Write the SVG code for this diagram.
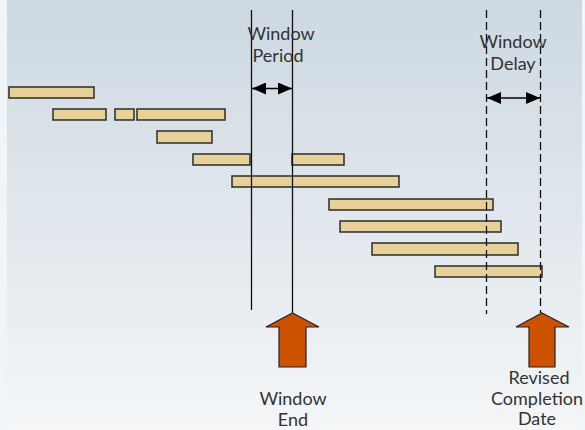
<svg xmlns="http://www.w3.org/2000/svg" width="585" height="430" viewBox="0 0 585 430">
<defs>
<linearGradient id="bg" x1="0" y1="0" x2="0" y2="1">
<stop offset="0" stop-color="#cdd8e1"/>
<stop offset="1" stop-color="#f4f6f8"/>
</linearGradient>
<marker id="ah" viewBox="0 0 14 12" refX="14" refY="6" markerWidth="14" markerHeight="12" markerUnits="userSpaceOnUse" orient="auto-start-reverse">
<path d="M0,0 L14,6 L0,12 Z" fill="#000"/>
</marker>
<style>
.bar{fill:#e8d198;stroke:#2b2b2b;stroke-width:1.5}
.vl{stroke:#111;stroke-width:1.3;fill:none}
.dl{stroke:#111;stroke-width:1.3;fill:none;stroke-dasharray:8 4}
.dim{stroke:#000;stroke-width:1.5;fill:none}
.big{fill:#cc5200;stroke:#222;stroke-width:1.2}
.t{font-family:Lato,"Open Sans","Liberation Sans",sans-serif;font-size:18px;fill:#333;text-anchor:middle}
</style>
</defs>
<rect x="0" y="0" width="585" height="430" fill="#f2f5f8"/>
<rect x="7" y="0" width="575" height="430" fill="url(#bg)"/>
<g id="bars">
<rect class="bar" x="9" y="87" width="85" height="11"/>
<rect class="bar" x="53" y="109" width="53" height="11"/>
<rect class="bar" x="115" y="109" width="19" height="11"/>
<rect class="bar" x="137" y="109" width="88" height="11"/>
<rect class="bar" x="157" y="131" width="55" height="12"/>
<rect class="bar" x="193" y="154" width="57" height="11"/>
<rect class="bar" x="292" y="154" width="52" height="11"/>
<rect class="bar" x="232" y="176" width="167" height="11"/>
<rect class="bar" x="329" y="199" width="164" height="11"/>
<rect class="bar" x="340" y="221" width="161" height="11"/>
<rect class="bar" x="372" y="243" width="146" height="12"/>
<rect class="bar" x="435" y="266" width="107" height="11"/>
</g>
<g id="connectors">
<line class="vl" x1="251.5" y1="10" x2="251.5" y2="310"/>
<line class="vl" x1="292.5" y1="10" x2="292.5" y2="313"/>
<line class="dl" x1="486.5" y1="10" x2="486.5" y2="314"/>
<line class="dl" x1="540.5" y1="10" x2="540.5" y2="313"/>
<line class="dim" x1="252" y1="88.5" x2="292" y2="88.5" marker-start="url(#ah)" marker-end="url(#ah)"/>
<line class="dim" x1="487" y1="98" x2="540" y2="98" marker-start="url(#ah)" marker-end="url(#ah)"/>
</g>
<g id="window-period">
<text class="t" x="281" y="40">Window</text>
<text class="t" x="278" y="62">Period</text>
</g>
<g id="window-delay">
<text class="t" x="513" y="48">Window</text>
<text class="t" x="513" y="70">Delay</text>
</g>
<g id="window-end">
<path class="big" d="M292.5,313 L319,327 L306,327 L306,367 L279,367 L279,327 L266,327 Z"/>
<text class="t" x="293" y="405">Window</text>
<text class="t" x="293" y="426">End</text>
</g>
<g id="revised-completion">
<path class="big" d="M542,313 L569,327 L555,327 L555,367 L529,367 L529,327 L516,327 Z"/>
<text class="t" x="539" y="384">Revised</text>
<text class="t" x="537" y="405">Completion</text>
<text class="t" x="537" y="425">Date</text>
</g>
</svg>
